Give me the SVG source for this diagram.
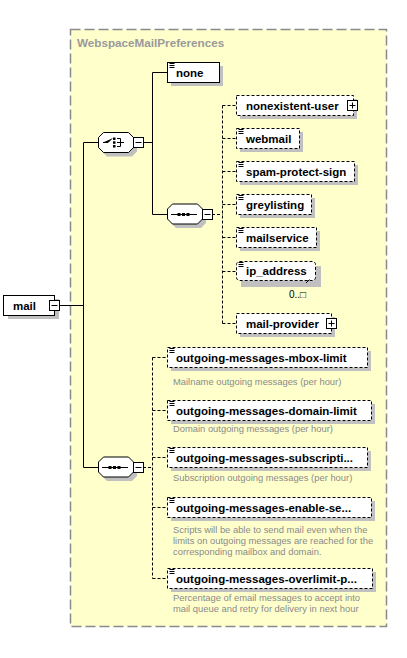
<svg xmlns="http://www.w3.org/2000/svg" width="407" height="658" viewBox="0 0 407 658">
<style>
.bg{fill:#FFFFCC;stroke:#8a8a8a;stroke-width:1.5;stroke-dasharray:10,4}
.title{font:bold 11.7px "Liberation Sans",Arial,sans-serif;fill:#9a9a9a}
.sh{fill:#c0c0c0}
.box{fill:#fff;stroke:#000;stroke-width:1}
.opt{stroke-dasharray:3,2}
.ln{stroke:#000;stroke-width:1;fill:none}
.dl{stroke:#000;stroke-width:1;fill:none;stroke-dasharray:3,2}
.nm{font:bold 11.5px "Liberation Sans",Arial,sans-serif;fill:#000}
.ds{font:9.4px "Liberation Sans",Arial,sans-serif;fill:#8a8a8a}
.oc{font:10px "Liberation Sans",Arial,sans-serif;fill:#000}
.ic{stroke:#000;stroke-width:1}
.pm{fill:#fff;stroke:#000;stroke-width:1}
</style>
<defs>
<g id="eic"><path class="ic" d="M2,1H7M2,3H7M2,5H7"/></g>
<path id="oct" d="M5,0H30L35,5V15L30,20H5L0,15V5Z"/>
<g id="minus"><rect class="pm" x="0" y="0" width="10" height="10"/><path class="ic" d="M2,5H8"/></g>
<g id="plus"><rect class="pm" x="0" y="0" width="10" height="10"/><path class="ic" d="M2,5H8M5,2V8"/></g>
</defs>

<rect class="bg" x="70.5" y="29.5" width="316" height="597"/>
<text class="title" x="77" y="47">WebspaceMailPreferences</text>

<g id="connectors">
<path class="ln" d="M59,305.5H83.5M83.5,142.5V467.5M83.5,142.5H98M83.5,467.5H98"/>
<path class="ln" d="M143,142.5H152.5M152.5,72.5V214.5M152.5,72.5H167M152.5,214.5H167"/>
<path class="dl" d="M212,214.5H222.5M222.5,105.5V323.5M222.5,105.5H236M222.5,138.5H236M222.5,171.5H236M222.5,204.5H236M222.5,237.5H236M222.5,271.5H236M222.5,323.5H236"/>
<path class="dl" d="M143,467.5H152.5M152.5,357.5V578.5M152.5,357.5H167M152.5,410.5H167M152.5,457.5H167M152.5,507.5H167M152.5,578.5H167"/>
</g>

<g id="mail">
<rect class="sh" x="8" y="299" width="51" height="20"/>
<rect class="box" x="3.5" y="295.5" width="51" height="20"/>
<text class="nm" x="13" y="310">mail</text>
<use href="#minus" x="49.5" y="300.5"/>
</g>

<g id="choice">
<use href="#oct" class="sh" x="102" y="136.5"/>
<use href="#oct" class="box" x="98.5" y="132.5"/>
<path class="ic" d="M103,142.5H108L112,138.5"/>
<rect x="113" y="137.5" width="2.5" height="2.5"/>
<rect x="113" y="141.3" width="2.5" height="2.5"/>
<rect x="113" y="145" width="2.5" height="2.5"/>
<path class="ic" fill="none" d="M117,138.5H120.5V146.5H117M117,142.5H124"/>
<use href="#minus" x="133.5" y="137.5"/>
</g>

<g id="none">
<rect class="sh" x="171" y="66" width="52" height="20"/>
<rect class="box" x="167.5" y="62.5" width="52" height="20"/>
<use href="#eic" x="167.5" y="62.5"/>
<text class="nm" x="176" y="77">none</text>
</g>

<g id="seq1">
<use href="#oct" class="sh" x="171" y="208"/>
<use href="#oct" class="box" x="167.5" y="204"/>
<path class="ic" d="M171,214.5H197"/>
<rect x="177.5" y="213" width="3" height="3"/>
<rect x="182" y="213" width="3" height="3"/>
<rect x="186.5" y="213" width="3" height="3"/>
<use href="#minus" x="202.5" y="209.5"/>
</g>

<g id="nonexistent-user">
<rect class="sh" x="240" y="99" width="117" height="20"/>
<rect class="box opt" x="236.5" y="95.5" width="117" height="20"/>
<text class="nm" x="246" y="110">nonexistent-user</text>
<use href="#plus" x="347.5" y="100.5"/>
</g>

<g id="webmail">
<rect class="sh" x="240" y="132" width="63" height="20"/>
<rect class="box opt" x="236.5" y="128.5" width="63" height="20"/>
<use href="#eic" x="236.5" y="128.5"/>
<text class="nm" x="246" y="143">webmail</text>
</g>

<g id="spam-protect-sign">
<rect class="sh" x="240" y="165" width="118" height="20"/>
<rect class="box opt" x="236.5" y="161.5" width="118" height="20"/>
<use href="#eic" x="236.5" y="161.5"/>
<text class="nm" x="246" y="176">spam-protect-sign</text>
</g>

<g id="greylisting">
<rect class="sh" x="240" y="198" width="75" height="20"/>
<rect class="box opt" x="236.5" y="194.5" width="75" height="20"/>
<use href="#eic" x="236.5" y="194.5"/>
<text class="nm" x="246" y="209">greylisting</text>
</g>

<g id="mailservice">
<rect class="sh" x="240" y="231" width="80" height="20"/>
<rect class="box opt" x="236.5" y="227.5" width="80" height="20"/>
<use href="#eic" x="236.5" y="227.5"/>
<text class="nm" x="246" y="242">mailservice</text>
</g>

<g id="ip_address">
<rect class="sh" x="241" y="266" width="80" height="21"/>
<rect class="box opt" x="236.5" y="261.5" width="79" height="19" rx="3"/>
<path class="ic" d="M306,283L309.5,279.5"/>
<use href="#eic" x="236.5" y="261.5"/>
<text class="nm" x="246" y="275">ip_address</text>
<text class="oc" x="289" y="298">0..□</text>
</g>

<g id="mail-provider">
<rect class="sh" x="240" y="317" width="95" height="20"/>
<rect class="box opt" x="236.5" y="313.5" width="95" height="20"/>
<text class="nm" x="246" y="328">mail-provider</text>
<use href="#plus" x="326.5" y="318.5"/>
</g>

<g id="seq2">
<use href="#oct" class="sh" x="102" y="461"/>
<use href="#oct" class="box" x="98.5" y="457"/>
<path class="ic" d="M102,467.5H128"/>
<rect x="108.5" y="466" width="3" height="3"/>
<rect x="113" y="466" width="3" height="3"/>
<rect x="117.5" y="466" width="3" height="3"/>
<use href="#minus" x="133.5" y="462.5"/>
</g>

<g id="outgoing-messages-mbox-limit">
<rect class="sh" x="171" y="351" width="200" height="20"/>
<rect class="box opt" x="167.5" y="347.5" width="200" height="20"/>
<use href="#eic" x="167.5" y="347.5"/>
<text class="nm" x="176" y="362">outgoing-messages-mbox-limit</text>
<text class="ds" x="173" y="385">Mailname outgoing messages (per hour)</text>
</g>

<g id="outgoing-messages-domain-limit">
<rect class="sh" x="171" y="404" width="204" height="20"/>
<rect class="box opt" x="167.5" y="400.5" width="204" height="20"/>
<use href="#eic" x="167.5" y="400.5"/>
<text class="nm" x="176" y="415">outgoing-messages-domain-limit</text>
<text class="ds" x="173" y="432">Domain outgoing messages (per hour)</text>
</g>

<g id="outgoing-messages-subscription">
<rect class="sh" x="171" y="451" width="200" height="20"/>
<rect class="box opt" x="167.5" y="447.5" width="200" height="20"/>
<use href="#eic" x="167.5" y="447.5"/>
<text class="nm" x="176" y="462">outgoing-messages-subscripti...</text>
<text class="ds" x="173" y="481">Subscription outgoing messages (per hour)</text>
</g>

<g id="outgoing-messages-enable-sendmail">
<rect class="sh" x="171" y="501" width="204" height="20"/>
<rect class="box opt" x="167.5" y="497.5" width="204" height="20"/>
<use href="#eic" x="167.5" y="497.5"/>
<text class="nm" x="176" y="512">outgoing-messages-enable-se...</text>
<text class="ds" x="173" y="533">Scripts will be able to send mail even when the</text>
<text class="ds" x="173" y="544">limits on outgoing messages are reached for the</text>
<text class="ds" x="173" y="555">corresponding mailbox and domain.</text>
</g>

<g id="outgoing-messages-overlimit">
<rect class="sh" x="171" y="572" width="205" height="20"/>
<rect class="box opt" x="167.5" y="568.5" width="205" height="20"/>
<use href="#eic" x="167.5" y="568.5"/>
<text class="nm" x="176" y="583">outgoing-messages-overlimit-p...</text>
<text class="ds" x="173" y="601">Percentage of email messages to accept into</text>
<text class="ds" x="173" y="612">mail queue and retry for delivery in next hour</text>
</g>
</svg>
